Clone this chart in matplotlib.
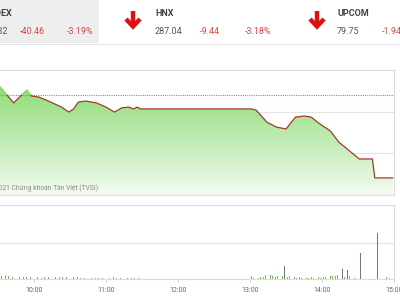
import numpy as np
import matplotlib
matplotlib.use("Agg")
import matplotlib.pyplot as plt
from matplotlib.colors import LinearSegmentedColormap
from matplotlib.patches import PathPatch, Rectangle
from matplotlib.lines import Line2D

plt.rcParams['font.family'] = ['Roboto', 'DejaVu Sans']

# index line (VNINDEX)
price_times = ["09:25", "09:32", "09:43", "09:54", "09:58", "10:04", "10:12", "10:23",
               "10:29", "10:33", "10:37", "10:43", "10:52", "11:00", "11:07", "11:13",
               "11:19", "11:23", "11:26", "11:29", "13:01", "13:05", "13:14", "13:22",
               "13:30", "13:34", "13:38", "13:45", "13:51", "13:57", "14:07", "14:14",
               "14:22", "14:31", "14:42", "14:44", "14:59"]
price_vals = [1273.0, 1271.8, 1264.2, 1270.4, 1267.5, 1267.0, 1265.1, 1262.2,
              1259.8, 1261.3, 1264.6, 1265.1, 1264.2, 1262.2, 1259.8, 1261.8,
              1262.2, 1261.3, 1262.2, 1261.3, 1261.3, 1260.8, 1255.0, 1252.6,
              1251.7, 1254.6, 1257.4, 1257.9, 1257.4, 1254.6, 1250.7, 1245.4,
              1241.6, 1237.3, 1237.3, 1228.2, 1228.2]
ref_close = 1267.8

# volume bars
vol_am_start = "09:30"   # every 3 minutes
vol_am = [0.10, 0.08, 0.11, 0.07, 0.06, 0.08, 0.06, 0.05, 0.06, 0.05,
          0.06, 0.05, 0.04, 0.05, 0.05, 0.06, 0.05, 0.06, 0.05, 0.06,
          0.07, 0.06, 0.05, 0.04, 0.04, 0.03, 0.04, 0.03, 0.04, 0.03,
          0.03, 0.04, 0.05, 0.04, 0.03, 0.03, 0.04, 0.03, 0.03, 0.04]
vol_pm_start = "13:01"   # every 2 minutes
vol_pm = [0.09, 0.03, 0.04, 0.03, 0.05, 0.06, 0.10, 0.07, 0.12, 0.09,
          0.06, 0.08, 0.05, 0.07, 0.36, 0.06, 0.08, 0.05, 0.06, 0.04,
          0.05, 0.03, 0.04, 0.03, 0.04, 0.05, 0.03, 0.04, 0.05, 0.04,
          0.05, 0.06, 0.05, 0.07, 0.08, 0.09, 0.10, 0.06, 0.28, 0.05,
          0.25, 0.07, 0.03, 0.02]
vol_late_times = ["14:32", "14:46", "14:54", "14:56"]
vol_late = [0.72, 1.28, 0.06, 0.04]

hour_ticks = ["10:00", "11:00", "12:00", "13:00", "14:00", "15:00"]

header = [("VNINDEX", "1,227.32", "-40.46", "-3.19%"),
          ("HNX", "287.04", "-9.44", "-3.18%"),
          ("UPCOM", "79.75", "-1.94", "-2.38%")]


def hrs(s):
    h, m = s.split(":")
    return int(h) + int(m) / 60


px = np.array([hrs(t) for t in price_times])
py = np.array(price_vals)
am_t = hrs(vol_am_start) + np.arange(len(vol_am)) * 3 / 60
pm_t = hrs(vol_pm_start) + np.arange(len(vol_pm)) * 2 / 60
vt = np.concatenate([am_t, pm_t, [hrs(t) for t in vol_late_times]])
vv = np.array(vol_am + vol_pm + vol_late)

# split the line where it crosses the reference level
lx, ly = [px[0]], [py[0]]
for i in range(1, len(px)):
    a, b = py[i - 1] - ref_close, py[i] - ref_close
    if a * b < 0:
        lx.append(px[i - 1] + (px[i] - px[i - 1]) * a / (a - b))
        ly.append(ref_close)
    lx.append(px[i])
    ly.append(py[i])
lx, ly = np.array(lx), np.array(ly)
above = np.ma.masked_where(ly < ref_close, ly)
below = np.ma.masked_where(ly > ref_close, ly)

W, H = 400, 300
fig = plt.figure(figsize=(4, 3), dpi=100)
fig.patch.set_facecolor("white")

xr = 394 / W
xlim = (15.0 - 394 / 72, 15.0)
grid_c = "#e3e3e3"

# price panel
ax = fig.add_axes([0, (H - 195) / H, xr, 125 / H])
ax.set_xlim(*xlim)
ax.set_ylim(1220, 1280)
for y in [1240, 1260]:
    ax.axhline(y, color=grid_c, lw=0.8, zorder=0)
coll = ax.fill_between(px, py, 1220, facecolor="none", edgecolor="none")
clip = PathPatch(coll.get_paths()[0], transform=ax.transData,
                 facecolor="none", edgecolor="none")
ax.add_patch(clip)
cmap = LinearSegmentedColormap.from_list("g", ["#f3fcf0", "#80d866"])
grad = np.linspace(0, 1, 256).reshape(-1, 1)
im = ax.imshow(grad, extent=[xlim[0], xlim[1], 1220, 1280], origin="lower",
               aspect="auto", cmap=cmap, zorder=1)
im.set_clip_path(clip)

ax.axhline(ref_close, color="#8a8a8a", lw=0.8, ls=(0, (1, 1)), zorder=2)
ax.plot(lx, above, color="#7fd468", lw=0.9, zorder=3)
ax.plot(lx, below, color="#a03a2a", lw=0.9, zorder=3)

ax.text(xlim[0] + 98 / 72, 1223.5, "© 2021 Chứng khoán Tân Việt (TVSI)",
        ha="right", va="center", fontsize=4.9, color="#8c8c8c", zorder=4)
ax.spines["left"].set_visible(False)
for s in ["top", "right", "bottom"]:
    ax.spines[s].set_color("#dcdcdc")
    ax.spines[s].set_linewidth(0.8)
ax.set_xticks([])
ax.set_yticks([])

# volume panel
av = fig.add_axes([0, (H - 279) / H, xr, 74 / H])
av.set_xlim(*xlim)
av.set_ylim(0, 2.05)
av.axhline(1.0, color=grid_c, lw=0.8, zorder=0)
colors = ["#6f7d6f" if v > 0.15 else "#7cb95c" for v in vv]
av.bar(vt, vv, width=0.013, color=colors, align="center", zorder=2)
av.set_xticks([hrs(t) for t in hour_ticks])
av.set_xticklabels(hour_ticks, fontsize=5, color="#666666")
av.tick_params(axis="x", length=2.5, width=0.6, color="#cccccc", pad=3)
av.set_yticks([])
av.spines["left"].set_visible(False)
for s in ["top", "right", "bottom"]:
    av.spines[s].set_color("#dcdcdc")
    av.spines[s].set_linewidth(0.8)

# header strip
fig.patches.append(Rectangle((0, 1 - 43 / H), 99 / W, 43 / H, transform=fig.transFigure,
                             facecolor="#eeeeee", edgecolor="none", zorder=0))
fig.lines.append(Line2D([0, 1], [1 - 43.5 / H] * 2, transform=fig.transFigure,
                        color="#e6e6e6", lw=0.8))


def ftext(x, y, s, **kw):
    fig.text(x / W, 1 - y / H, s, va="center", fontsize=6.5, **kw)


name_x = [13, 155, 337]
red = "#d24a45"
for i, (name, val, chg, pct) in enumerate(header):
    x0 = name_x[i]
    if i == 0:
        ftext(x0, 13, name, ha="right", fontweight="bold", color="#444444")
        ftext(8, 31, val, ha="right", color="#555555")
        ftext(20, 31, chg, ha="left", color=red)
        ftext(67, 31, pct, ha="left", color=red)
    else:
        ftext(x0, 13, name, ha="left", fontweight="bold", color="#444444")
        ftext(x0, 31, val, ha="left", color="#555555")
        ftext(x0 + 45, 31, chg, ha="left", color=red)
        ftext(x0 + 90, 31, pct, ha="left", color=red)

# red down arrows
for cx in [133, 317]:
    fig.lines.append(Line2D([cx / W] * 2, [1 - 11 / H, 1 - 26 / H], transform=fig.transFigure,
                            color="#dd1111", lw=3.2, solid_capstyle="butt"))
    fig.lines.append(Line2D([(cx - 7) / W, cx / W, (cx + 7) / W],
                            [1 - 19 / H, 1 - 26.5 / H, 1 - 19 / H], transform=fig.transFigure,
                            color="#dd1111", lw=3.2, solid_joinstyle="miter",
                            solid_capstyle="butt"))

fig.savefig("out.png", dpi=100)
